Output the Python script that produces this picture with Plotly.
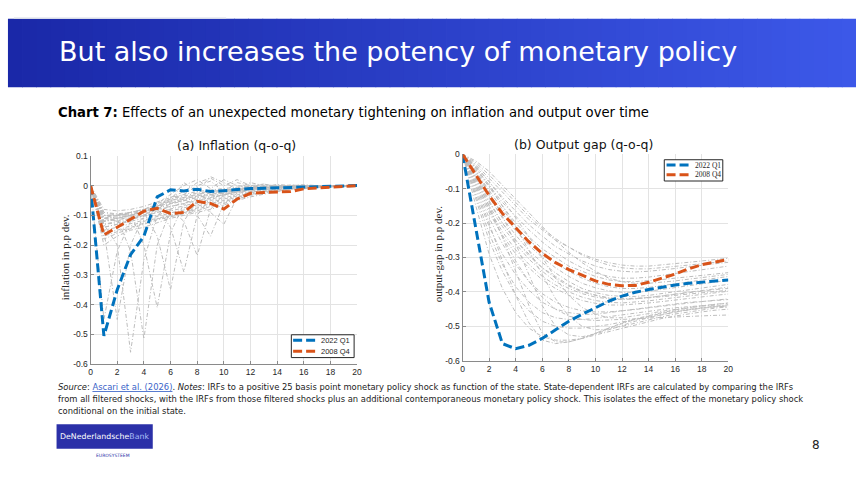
import plotly.graph_objects as go

W, H = 861, 486

# ---------------- data ----------------
quarters = list(range(21))

infl_2022Q1 = [0, -0.505, -0.35, -0.232, -0.17, -0.038, -0.014, -0.018, -0.012, -0.02, -0.017,
               -0.013, -0.01, -0.009, -0.008, -0.007, -0.006, -0.005, -0.003, -0.002, 0]
infl_2008Q4 = [0, -0.166, -0.14, -0.112, -0.086, -0.076, -0.094, -0.09, -0.053, -0.06, -0.079,
               -0.045, -0.026, -0.023, -0.021, -0.02, -0.011, -0.008, -0.005, -0.003, 0]

infl_filtered = [
    [0, -0.08, -0.085, -0.08, -0.07, -0.055, -0.04, -0.03, -0.02, -0.015, -0.01, -0.005, -0.003, -0.002, -0.001, 0, 0, 0, 0, 0, 0],
    [0, -0.09, -0.095, -0.09, -0.08, -0.065, -0.05, -0.04, -0.03, -0.02, -0.015, -0.01, -0.006, -0.004, -0.002, -0.001, 0, 0, 0, 0, 0],
    [0, -0.1, -0.1, -0.095, -0.085, -0.07, -0.055, -0.045, -0.035, -0.03, -0.02, -0.015, -0.01, -0.008, -0.006, -0.004, -0.003, -0.002, -0.001, 0, 0],
    [0, -0.11, -0.11, -0.1, -0.09, -0.078, -0.062, -0.05, -0.04, -0.032, -0.024, -0.017, -0.012, -0.008, -0.006, -0.004, -0.003, -0.002, -0.001, 0, 0],
    [0, -0.12, -0.115, -0.105, -0.095, -0.085, -0.07, -0.06, -0.05, -0.04, -0.03, -0.022, -0.016, -0.012, -0.009, -0.007, -0.005, -0.003, -0.002, -0.001, 0],
    [0, -0.13, -0.125, -0.115, -0.103, -0.09, -0.078, -0.068, -0.057, -0.045, -0.035, -0.026, -0.019, -0.014, -0.01, -0.007, -0.005, -0.003, -0.002, -0.001, 0],
    [0, -0.14, -0.13, -0.12, -0.11, -0.1, -0.085, -0.075, -0.065, -0.05, -0.04, -0.03, -0.022, -0.016, -0.012, -0.009, -0.006, -0.004, -0.003, -0.001, 0],
    [0, -0.15, -0.14, -0.128, -0.115, -0.105, -0.092, -0.082, -0.07, -0.055, -0.045, -0.034, -0.025, -0.018, -0.013, -0.01, -0.007, -0.004, -0.003, -0.001, 0],
    [0, -0.16, -0.15, -0.135, -0.12, -0.11, -0.1, -0.09, -0.075, -0.06, -0.05, -0.038, -0.028, -0.02, -0.015, -0.011, -0.008, -0.005, -0.003, -0.002, 0],
    [0, -0.17, -0.155, -0.14, -0.125, -0.112, -0.102, -0.092, -0.08, -0.065, -0.055, -0.042, -0.03, -0.022, -0.016, -0.012, -0.008, -0.005, -0.003, -0.002, 0],
    [0, -0.18, -0.16, -0.145, -0.13, -0.115, -0.105, -0.095, -0.085, -0.07, -0.06, -0.045, -0.033, -0.024, -0.018, -0.013, -0.009, -0.006, -0.004, -0.002, 0],
    [0, -0.2, -0.17, -0.15, -0.14, -0.125, -0.11, -0.1, -0.09, -0.08, -0.065, -0.05, -0.038, -0.028, -0.02, -0.014, -0.01, -0.007, -0.004, -0.002, 0],
    [0, -0.09, -0.1, -0.09, -0.08, -0.06, -0.03, 0.0, 0.02, -0.01, 0.02, 0.0, -0.005, 0.005, -0.002, 0.0, 0.003, 0, 0, 0, 0],
    [0, -0.1, -0.11, -0.1, -0.085, -0.07, -0.045, -0.03, 0.0, 0.015, -0.02, 0.01, 0.0, -0.004, 0.004, 0, 0, 0, 0, 0, 0],
    [0, -0.11, -0.12, -0.1, -0.09, -0.07, -0.04, -0.02, 0.01, 0.025, 0.0, 0.02, 0.0, 0.005, -0.003, 0.002, 0, 0, 0, 0, 0],
    [0, -0.13, -0.12, -0.11, -0.1, -0.08, -0.05, 0.01, -0.02, 0.03, 0.01, -0.01, 0.01, 0, 0, 0, 0, 0, 0, 0, 0],
    [0, -0.45, -0.22, -0.12, -0.09, -0.06, -0.045, -0.035, -0.025, -0.02, -0.015, -0.01, -0.007, -0.005, -0.003, -0.002, -0.001, 0, 0, 0, 0],
    [0, -0.15, -0.45, -0.2, -0.1, -0.07, -0.05, -0.04, -0.03, -0.02, -0.015, -0.01, -0.007, -0.005, -0.003, -0.002, -0.001, 0, 0, 0, 0],
    [0, -0.13, -0.2, -0.56, -0.25, -0.1, -0.06, -0.045, -0.035, -0.025, -0.018, -0.012, -0.008, -0.005, -0.003, -0.002, -0.001, 0, 0, 0, 0],
    [0, -0.12, -0.11, -0.22, -0.515, -0.2, -0.08, -0.05, -0.04, -0.03, -0.02, -0.014, -0.009, -0.006, -0.004, -0.002, -0.001, 0, 0, 0, 0],
    [0, -0.11, -0.1, -0.095, -0.2, -0.41, -0.16, -0.06, -0.045, -0.035, -0.025, -0.016, -0.01, -0.007, -0.004, -0.003, -0.001, 0, 0, 0, 0],
    [0, -0.12, -0.11, -0.1, -0.09, -0.17, -0.35, -0.12, -0.05, -0.04, -0.03, -0.02, -0.012, -0.008, -0.005, -0.003, -0.002, -0.001, 0, 0, 0],
    [0, -0.1, -0.1, -0.09, -0.085, -0.075, -0.14, -0.29, -0.1, -0.04, -0.03, -0.02, -0.013, -0.008, -0.005, -0.003, -0.002, -0.001, 0, 0, 0],
    [0, -0.14, -0.13, -0.115, -0.1, -0.09, -0.08, -0.12, -0.235, -0.08, -0.03, -0.02, -0.013, -0.008, -0.005, -0.003, -0.002, -0.001, 0, 0, 0],
    [0, -0.11, -0.105, -0.1, -0.09, -0.08, -0.07, -0.06, -0.1, -0.17, -0.06, -0.025, -0.015, -0.01, -0.006, -0.004, -0.002, -0.001, 0, 0, 0],
    [0, -0.1, -0.1, -0.09, -0.08, -0.07, -0.06, -0.05, -0.06, -0.09, -0.13, -0.04, -0.02, -0.012, -0.008, -0.005, -0.003, -0.001, 0, 0, 0],
]

gap_2022Q1 = [0, -0.22, -0.43, -0.55, -0.565, -0.555, -0.535, -0.51, -0.485, -0.465, -0.445,
              -0.427, -0.412, -0.401, -0.393, -0.386, -0.38, -0.375, -0.371, -0.368, -0.365]
gap_2008Q4 = [0, -0.06, -0.12, -0.172, -0.215, -0.255, -0.288, -0.315, -0.335, -0.352, -0.368,
              -0.378, -0.382, -0.381, -0.372, -0.36, -0.348, -0.333, -0.321, -0.313, -0.306]

gap_filtered = [
    [0, -0.025, -0.06, -0.1, -0.14, -0.18, -0.215, -0.245, -0.27, -0.293, -0.31, -0.322, -0.33, -0.333, -0.333, -0.33, -0.326, -0.322, -0.318, -0.314, -0.31],
    [0, -0.03, -0.07, -0.11, -0.15, -0.19, -0.22, -0.25, -0.27, -0.29, -0.305, -0.315, -0.322, -0.325, -0.325, -0.322, -0.318, -0.314, -0.31, -0.306, -0.302],
    [0, -0.035, -0.08, -0.125, -0.165, -0.205, -0.238, -0.268, -0.29, -0.31, -0.325, -0.335, -0.34, -0.342, -0.34, -0.337, -0.332, -0.327, -0.322, -0.318, -0.314],
    [0, -0.04, -0.09, -0.14, -0.18, -0.22, -0.255, -0.285, -0.31, -0.33, -0.345, -0.355, -0.36, -0.36, -0.357, -0.352, -0.346, -0.34, -0.335, -0.33, -0.325],
    [0, -0.045, -0.095, -0.15, -0.2, -0.24, -0.275, -0.3, -0.325, -0.34, -0.355, -0.365, -0.37, -0.37, -0.368, -0.364, -0.36, -0.356, -0.352, -0.348, -0.344],
    [0, -0.05, -0.105, -0.16, -0.21, -0.25, -0.285, -0.315, -0.34, -0.36, -0.375, -0.385, -0.39, -0.39, -0.387, -0.382, -0.376, -0.37, -0.365, -0.36, -0.355],
    [0, -0.055, -0.115, -0.172, -0.222, -0.265, -0.3, -0.33, -0.355, -0.375, -0.388, -0.397, -0.401, -0.401, -0.398, -0.393, -0.388, -0.382, -0.376, -0.371, -0.366],
    [0, -0.06, -0.125, -0.185, -0.235, -0.28, -0.315, -0.345, -0.37, -0.39, -0.402, -0.41, -0.413, -0.413, -0.41, -0.405, -0.4, -0.394, -0.388, -0.383, -0.378],
    [0, -0.065, -0.135, -0.2, -0.25, -0.29, -0.33, -0.355, -0.38, -0.398, -0.41, -0.417, -0.42, -0.42, -0.418, -0.414, -0.41, -0.406, -0.402, -0.398, -0.395],
    [0, -0.07, -0.14, -0.2, -0.25, -0.295, -0.33, -0.36, -0.383, -0.4, -0.41, -0.418, -0.42, -0.419, -0.416, -0.411, -0.406, -0.4, -0.395, -0.39, -0.386],
    [0, -0.075, -0.15, -0.21, -0.26, -0.305, -0.34, -0.37, -0.39, -0.405, -0.415, -0.42, -0.422, -0.42, -0.417, -0.412, -0.407, -0.402, -0.397, -0.393, -0.39],
    [0, -0.085, -0.16, -0.225, -0.278, -0.32, -0.355, -0.38, -0.4, -0.415, -0.425, -0.43, -0.432, -0.43, -0.426, -0.421, -0.416, -0.411, -0.406, -0.402, -0.398],
    [0, -0.09, -0.17, -0.235, -0.29, -0.33, -0.365, -0.39, -0.41, -0.425, -0.433, -0.438, -0.438, -0.436, -0.432, -0.428, -0.423, -0.418, -0.414, -0.41, -0.406],
    [0, -0.095, -0.185, -0.26, -0.32, -0.37, -0.405, -0.43, -0.445, -0.455, -0.458, -0.458, -0.455, -0.451, -0.446, -0.441, -0.436, -0.432, -0.428, -0.425, -0.422],
    [0, -0.11, -0.21, -0.29, -0.35, -0.395, -0.43, -0.45, -0.46, -0.465, -0.465, -0.46, -0.455, -0.45, -0.445, -0.44, -0.435, -0.43, -0.428, -0.425, -0.42],
    [0, -0.13, -0.25, -0.34, -0.41, -0.455, -0.485, -0.5, -0.505, -0.505, -0.5, -0.495, -0.487, -0.48, -0.472, -0.465, -0.458, -0.452, -0.447, -0.443, -0.44],
    [0, -0.15, -0.29, -0.39, -0.46, -0.505, -0.53, -0.54, -0.54, -0.535, -0.525, -0.515, -0.505, -0.495, -0.485, -0.477, -0.47, -0.463, -0.458, -0.453, -0.45],
    [0, -0.1, -0.2, -0.31, -0.41, -0.49, -0.54, -0.55, -0.545, -0.535, -0.52, -0.505, -0.49, -0.478, -0.468, -0.46, -0.452, -0.446, -0.44, -0.436, -0.433],
    [0, -0.07, -0.15, -0.24, -0.34, -0.44, -0.52, -0.545, -0.545, -0.535, -0.52, -0.505, -0.492, -0.48, -0.47, -0.462, -0.455, -0.45, -0.445, -0.44, -0.437],
    [0, -0.05, -0.11, -0.18, -0.26, -0.35, -0.44, -0.5, -0.525, -0.53, -0.522, -0.51, -0.497, -0.485, -0.475, -0.466, -0.458, -0.452, -0.447, -0.443, -0.44],
    [0, -0.04, -0.09, -0.15, -0.21, -0.28, -0.35, -0.42, -0.47, -0.5, -0.51, -0.508, -0.5, -0.49, -0.48, -0.472, -0.464, -0.458, -0.452, -0.447, -0.443],
    [0, -0.035, -0.08, -0.13, -0.185, -0.24, -0.3, -0.36, -0.41, -0.445, -0.465, -0.475, -0.475, -0.47, -0.463, -0.456, -0.45, -0.445, -0.44, -0.436, -0.432],
    [0, -0.02, -0.05, -0.09, -0.13, -0.17, -0.21, -0.25, -0.285, -0.315, -0.34, -0.36, -0.37, -0.375, -0.375, -0.372, -0.368, -0.363, -0.358, -0.353, -0.349],
    [0, -0.12, -0.23, -0.32, -0.385, -0.43, -0.46, -0.475, -0.48, -0.48, -0.477, -0.472, -0.466, -0.46, -0.455, -0.45, -0.446, -0.443, -0.44, -0.44, -0.445],
    [0, -0.08, -0.16, -0.24, -0.31, -0.37, -0.415, -0.45, -0.47, -0.48, -0.483, -0.482, -0.48, -0.478, -0.476, -0.474, -0.472, -0.47, -0.469, -0.468, -0.467],
]

x_ticks = [0, 2, 4, 6, 8, 10, 12, 14, 16, 18, 20]
infl_yticks = [0.1, 0, -0.1, -0.2, -0.3, -0.4, -0.5, -0.6]
infl_yticklabels = ["0.1", "0", "-0.1", "-0.2", "-0.3", "-0.4", "-0.5", "-0.6"]
gap_yticks = [0, -0.1, -0.2, -0.3, -0.4, -0.5, -0.6]
gap_yticklabels = ["0", "-0.1", "-0.2", "-0.3", "-0.4", "-0.5", "-0.6"]
series_names = ["2022 Q1", "2008 Q4"]

# ---------------- helpers ----------------
def px(x):
    return x / W

def py(y):
    return 1 - y / H

BLUE = "#0072BD"
ORANGE = "#D95319"
GRAY = "#bdbdbd"
GRAY_DASH = "4px,2px,1px,2px"
MAIN_DASH = "9px,4px"

fig = go.Figure()

for s in infl_filtered:
    fig.add_trace(go.Scatter(x=quarters, y=s, mode="lines", xaxis="x", yaxis="y",
                             line=dict(color=GRAY, width=1, dash=GRAY_DASH),
                             showlegend=False, hoverinfo="skip"))
for s in gap_filtered:
    fig.add_trace(go.Scatter(x=quarters, y=s, mode="lines", xaxis="x2", yaxis="y2",
                             line=dict(color=GRAY, width=1, dash=GRAY_DASH),
                             showlegend=False, hoverinfo="skip"))

fig.add_trace(go.Scatter(x=quarters, y=infl_2022Q1, mode="lines", name=series_names[0],
                         xaxis="x", yaxis="y", showlegend=False,
                         line=dict(color=BLUE, width=3, dash=MAIN_DASH)))
fig.add_trace(go.Scatter(x=quarters, y=infl_2008Q4, mode="lines", name=series_names[1],
                         xaxis="x", yaxis="y", showlegend=False,
                         line=dict(color=ORANGE, width=3, dash=MAIN_DASH)))
fig.add_trace(go.Scatter(x=quarters, y=gap_2022Q1, mode="lines", name=series_names[0],
                         xaxis="x2", yaxis="y2", showlegend=False,
                         line=dict(color=BLUE, width=3, dash=MAIN_DASH)))
fig.add_trace(go.Scatter(x=quarters, y=gap_2008Q4, mode="lines", name=series_names[1],
                         xaxis="x2", yaxis="y2", showlegend=False,
                         line=dict(color=ORANGE, width=3, dash=MAIN_DASH)))

tickfont = dict(family="Liberation Sans, Arial, sans-serif", size=8.5, color="#262626")
axis_common = dict(showgrid=True, gridcolor="#e3e3e3", gridwidth=1, zeroline=False,
                   showline=True, linecolor="#8a8a8a", linewidth=1,
                   ticks="inside", ticklen=3, tickcolor="#8a8a8a",
                   tickfont=tickfont, fixedrange=True)

fig.update_layout(
    width=W, height=H,
    margin=dict(l=0, r=0, t=0, b=0),
    paper_bgcolor="white", plot_bgcolor="white",
    showlegend=False,
    xaxis=dict(domain=[px(89.3), px(358)], range=[0, 20], tickvals=x_ticks,
               anchor="y", **axis_common),
    yaxis=dict(domain=[py(366.7), py(154)], range=[-0.6, 0.1], tickvals=infl_yticks,
               ticktext=infl_yticklabels, anchor="x", **axis_common),
    xaxis2=dict(domain=[px(464.3), px(732.3)], range=[0, 20], tickvals=x_ticks,
                anchor="y2", **axis_common),
    yaxis2=dict(domain=[py(363.3), py(152.3)], range=[-0.6, 0], tickvals=gap_yticks,
                ticktext=gap_yticklabels, anchor="x2", **axis_common),
)

# ---------------- header band (gradient strips) ----------------
shapes = []
n_strips = 60
x0, x1 = 6, 861
c0 = (26, 40, 168)
c1 = (60, 88, 232)
for i in range(n_strips):
    t = i / (n_strips - 1)
    col = "rgb(%d,%d,%d)" % tuple(round(c0[k] + (c1[k] - c0[k]) * t) for k in range(3))
    xa = x0 + (x1 - x0) * i / n_strips
    xb = x0 + (x1 - x0) * (i + 1) / n_strips + 0.8
    shapes.append(dict(type="rect", xref="paper", yref="paper",
                       x0=px(xa), x1=px(min(xb, 861)), y0=py(84), y1=py(14),
                       fillcolor=col, line=dict(width=0), layer="below"))
shapes.append(dict(type="line", xref="paper", yref="paper", x0=px(12), x1=px(226),
                   y0=py(13.5), y1=py(13.5), line=dict(color="#d7dbe8", width=1.5)))
# logo box
shapes.append(dict(type="rect", xref="paper", yref="paper", x0=px(55), x1=px(152),
                   y0=py(453), y1=py(428), fillcolor="#2b30a8", line=dict(width=0)))

ann = []

# ---------------- compact legends (MATLAB style) ----------------
def legend_box(bx0, by0, bx1, by1, rows, lx0, lx1, tx, font):
    shapes.append(dict(type="rect", xref="paper", yref="paper", x0=px(bx0), x1=px(bx1),
                       y0=py(by1), y1=py(by0), fillcolor="white",
                       line=dict(color="#262626", width=1)))
    for (yy, col, name) in rows:
        shapes.append(dict(type="line", xref="paper", yref="paper", x0=px(lx0), x1=px(lx1),
                           y0=py(yy), y1=py(yy), line=dict(color=col, width=3, dash=MAIN_DASH)))
        ann.append(dict(text=name, x=px(tx), y=py(yy), xref="paper", yref="paper",
                        xanchor="left", yanchor="middle", showarrow=False, font=font))

legend_box(291.7, 336.7, 355, 360,
           [(342.4, BLUE, series_names[0]), (353.4, ORANGE, series_names[1])],
           293.5, 317, 320,
           dict(family="Liberation Sans, Arial, sans-serif", size=7.5, color="#262626"))
legend_box(667.7, 158, 726.7, 179.7,
           [(163.4, BLUE, series_names[0]), (173.2, ORANGE, series_names[1])],
           670, 695, 697,
           dict(family="Liberation Serif, Times New Roman, serif", size=7.5, color="#262626"))

fig.update_layout(shapes=shapes)

ann.append(dict(text="But also increases the potency of monetary policy", x=px(55), y=py(47),
                xref="paper", yref="paper", xanchor="left", yanchor="middle", showarrow=False,
                font=dict(family="DejaVu Sans, Verdana, sans-serif", size=27, color="white")))
ann.append(dict(text="<b>Chart 7:</b> Effects of an unexpected monetary tightening on inflation and output over time",
                x=px(54), y=py(110), xref="paper", yref="paper", xanchor="left", yanchor="middle",
                showarrow=False,
                font=dict(family="DejaVu Sans, Verdana, sans-serif", size=13.2, color="black")))
ann.append(dict(text="(a) Inflation (q-o-q)", x=px(236.5), y=py(143), xref="paper", yref="paper",
                xanchor="center", yanchor="middle", showarrow=False,
                font=dict(family="DejaVu Sans, sans-serif", size=12.5, color="#111111")))
ann.append(dict(text="(b) Output gap (q-o-q)", x=px(586.5), y=py(142), xref="paper", yref="paper",
                xanchor="center", yanchor="middle", showarrow=False,
                font=dict(family="DejaVu Sans, sans-serif", size=12.5, color="#111111")))
ann.append(dict(text="inflation in p.p dev.", x=px(63), y=py(257), xref="paper", yref="paper",
                xanchor="center", yanchor="middle", showarrow=False, textangle=-90,
                font=dict(family="Liberation Serif, Times New Roman, serif", size=11, color="#262626")))
ann.append(dict(text="output-gap in p.p dev.", x=px(439), y=py(254), xref="paper", yref="paper",
                xanchor="center", yanchor="middle", showarrow=False, textangle=-90,
                font=dict(family="Liberation Serif, Times New Roman, serif", size=11, color="#262626")))

foot_font = dict(family="DejaVu Sans, Verdana, sans-serif", size=8.4, color="#222222")
foot_lines = [
    "<i>Source</i>: <span style='color:#3a63c8'><u>Ascari et al. (2026)</u></span>. <i>Notes</i>: IRFs to a positive 25 basis point monetary policy shock as function of the state. State-dependent IRFs are calculated by comparing the IRFs",
    "from all filtered shocks, with the IRFs from those filtered shocks plus an additional contemporaneous monetary policy shock. This isolates the effect of the monetary policy shock",
    "conditional on the initial state.",
]
for i, t in enumerate(foot_lines):
    ann.append(dict(text=t, x=px(54), y=py(390 + 12.3 * i), xref="paper", yref="paper",
                    xanchor="left", yanchor="middle", showarrow=False, font=foot_font))

ann.append(dict(text="DeNederlandsche<span style='color:#a9bdf7'>Bank</span>", x=px(103.5), y=py(441),
                xref="paper", yref="paper", xanchor="center", yanchor="middle", showarrow=False,
                font=dict(family="DejaVu Sans, sans-serif", size=7.8, color="white")))
ann.append(dict(text="EUROSYSTEEM", x=px(112), y=py(460), xref="paper", yref="paper",
                xanchor="center", yanchor="middle", showarrow=False,
                font=dict(family="DejaVu Sans, sans-serif", size=4.5, color="#2b30a8")))
ann.append(dict(text="8", x=px(821), y=py(449), xref="paper", yref="paper",
                xanchor="center", yanchor="middle", showarrow=False,
                font=dict(family="DejaVu Sans, sans-serif", size=12, color="#222222")))
fig.update_layout(annotations=ann)

fig.write_html("out.html")
